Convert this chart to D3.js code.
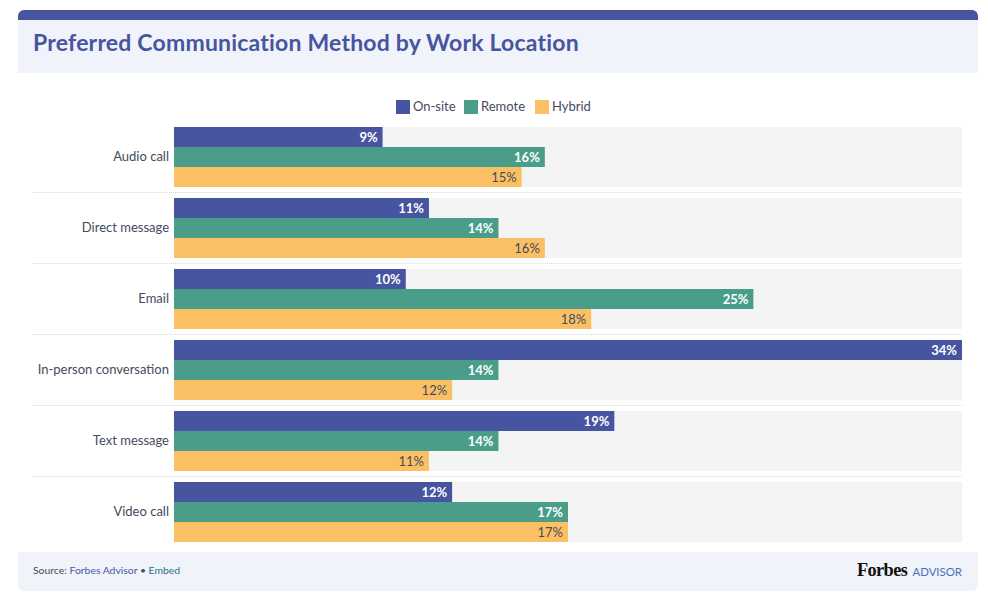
<!DOCTYPE html>
<html>
<head>
<meta charset="utf-8">
<script src="https://cdn.jsdelivr.net/npm/d3@7"></script>
<style>
  html, body { margin: 0; padding: 0; background: #fff; }
  svg { display: block; }
  text { font-family: Lato, sans-serif; }
</style>
</head>
<body>
<svg id="mysvg" width="988" height="604"></svg>
<script>
const categories = ['Audio call', 'Direct message', 'Email', 'In-person conversation', 'Text message', 'Video call'];
const seriesNames = ['On-site', 'Remote', 'Hybrid'];
const onSite = [9, 11, 10, 34, 19, 12];
const remote = [16, 14, 25, 14, 14, 17];
const hybrid = [15, 16, 18, 12, 11, 17];
const seriesValues = [onSite, remote, hybrid];
const colors = ['#4755a1', '#4a9d89', '#fcc064'];
const labelColors = ['#ffffff', '#ffffff', '#444b5c'];

const svg = d3.select('#mysvg');
const panel = '#f0f3f9';
const textDark = '#454b5e';

// Header
svg.append('path')
  .attr('d', 'M18,73V16a6,6 0 0 1 6,-6H972a6,6 0 0 1 6,6V73Z')
  .attr('fill', panel);
svg.append('path')
  .attr('d', 'M18,20V16a6,6 0 0 1 6,-6H972a6,6 0 0 1 6,6V20Z')
  .attr('fill', colors[0]);
svg.append('text')
  .attr('x', 33)
  .attr('y', 51)
  .attr('font-size', 23)
  .attr('font-weight', 700)
  .attr('letter-spacing', 0.2)
  .attr('fill', '#4755a1')
  .text('Preferred Communication Method by Work Location');

// Scales
const xScale = d3.scaleLinear().domain([0, 34]).range([174, 962]);
const yScale = d3.scaleBand().domain(categories).range([127, 542]).paddingInner(11 / 71);
const rowScale = d3.scaleBand().domain(seriesNames).range([0, yScale.bandwidth()]);

// Legend
const legendX = [396, 464, 535];
const legend = svg.selectAll('.legend')
  .data(seriesNames)
  .join('g')
  .attr('class', 'legend')
  .attr('transform', (d, i) => `translate(${legendX[i]}, 100)`);
legend.append('rect')
  .attr('width', 14)
  .attr('height', 14)
  .attr('fill', (d, i) => colors[i]);
legend.append('text')
  .attr('x', 17)
  .attr('y', 11)
  .attr('font-size', 13)
  .attr('fill', textDark)
  .text(d => d);

// Row backgrounds and separators
svg.selectAll('.row-bg')
  .data(categories)
  .join('rect')
  .attr('class', 'row-bg')
  .attr('x', xScale(0))
  .attr('y', d => yScale(d))
  .attr('width', xScale(34) - xScale(0))
  .attr('height', yScale.bandwidth())
  .attr('fill', '#f4f4f4');

svg.selectAll('.separator')
  .data(categories.slice(0, -1))
  .join('line')
  .attr('class', 'separator')
  .attr('x1', 33)
  .attr('x2', 962)
  .attr('y1', d => yScale(d) + yScale.bandwidth() + 5.5)
  .attr('y2', d => yScale(d) + yScale.bandwidth() + 5.5)
  .attr('stroke', '#d6d6d6')
  .attr('stroke-width', 1)
  .attr('stroke-dasharray', '1 1');

// Bars
const rows = svg.selectAll('.row')
  .data(categories)
  .join('g')
  .attr('class', 'row')
  .attr('transform', d => `translate(0, ${yScale(d)})`);

seriesNames.forEach((name, s) => {
  rows.append('rect')
    .attr('x', xScale(0))
    .attr('y', rowScale(name))
    .attr('width', (d, i) => xScale(seriesValues[s][i]) - xScale(0))
    .attr('height', rowScale.bandwidth())
    .attr('fill', colors[s]);

  rows.append('text')
    .attr('x', (d, i) => xScale(seriesValues[s][i]) - 5)
    .attr('y', rowScale(name) + rowScale.bandwidth() / 2 + 4.5)
    .attr('text-anchor', 'end')
    .attr('font-size', 13)
    .attr('font-weight', s < 2 ? 700 : 400)
    .attr('fill', labelColors[s])
    .text((d, i) => `${seriesValues[s][i]}%`);
});

// Category axis
const yAxis = svg.append('g')
  .attr('transform', `translate(${xScale(0)}, 0)`)
  .call(d3.axisLeft(yScale).tickSize(0).tickPadding(5));
yAxis.select('.domain').remove();
yAxis.selectAll('text')
  .attr('font-size', 13)
  .style('font-family', 'Lato, sans-serif')
  .attr('fill', textDark);

// Footer
svg.append('path')
  .attr('d', 'M18,552H978V585a6,6 0 0 1 -6,6H24a6,6 0 0 1 -6,-6Z')
  .attr('fill', panel);
const source = svg.append('text')
  .attr('x', 33)
  .attr('y', 574)
  .attr('font-size', 10.4)
  .attr('fill', textDark);
source.append('tspan').text('Source: ');
source.append('tspan').attr('fill', '#4755a1').text('Forbes Advisor');
source.append('tspan').text(' • ');
source.append('tspan').attr('fill', '#2f6f8f').text('Embed');

svg.append('text')
  .attr('x', 857)
  .attr('y', 576)
  .attr('font-size', 18.3)
  .attr('font-weight', 700)
  .attr('letter-spacing', -0.6)
  .style('font-family', '"Liberation Serif", serif')
  .attr('fill', '#111111')
  .text('Forbes');
svg.append('text')
  .attr('x', 962)
  .attr('y', 576)
  .attr('text-anchor', 'end')
  .attr('font-size', 11.4)
  .attr('fill', '#4a6fb5')
  .text('ADVISOR');
</script>
</body>
</html>
